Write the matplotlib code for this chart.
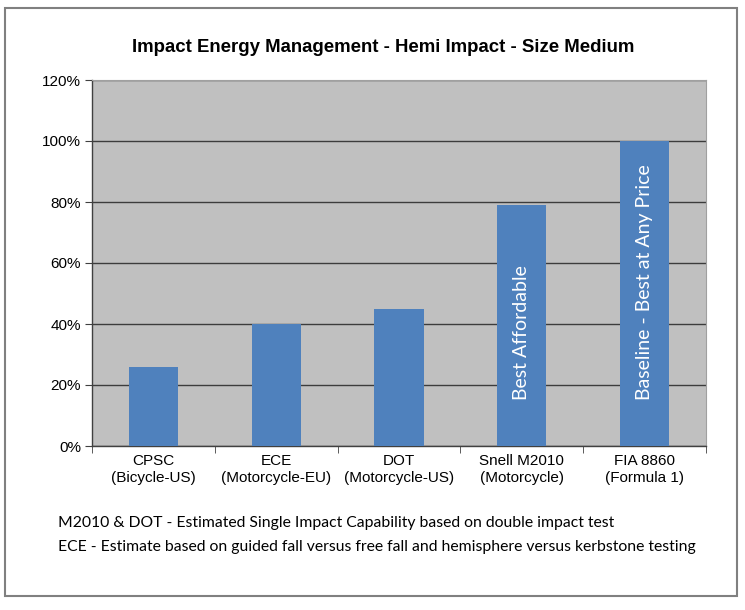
import numpy as np
import matplotlib
matplotlib.use("Agg")
import matplotlib.pyplot as plt
from matplotlib.patches import Rectangle

# chart data
categories = ["CPSC", "ECE", "DOT", "Snell M2010", "FIA 8860"]
subtitles = ["(Bicycle-US)", "(Motorcycle-EU)", "(Motorcycle-US)", "(Motorcycle)", "(Formula 1)"]
values = [26, 40, 45, 79, 100]
bar_notes = ["", "", "", "Best Affordable", "Baseline - Best at Any Price"]
y_ticks = [0, 20, 40, 60, 80, 100, 120]
footnotes = [
    "M2010 & DOT - Estimated Single Impact Capability based on double impact test",
    "ECE - Estimate based on guided fall versus free fall and hemisphere versus kerbstone testing",
]

fig = plt.figure(figsize=(7.45, 6.1), dpi=100)
ax = fig.add_axes([92 / 745, 1 - 446 / 610, 614 / 745, 366 / 610])

# outer frame around the whole chart
fig.patches.append(Rectangle((5 / 745, 14 / 610), 732 / 745, 588 / 610,
                             transform=fig.transFigure, fill=False,
                             edgecolor="#808080", linewidth=1.5))

x = np.arange(len(categories))
ax.set_facecolor("#C0C0C0")
ax.bar(x, values, width=0.4, color="#4F81BD", zorder=3)

for xi, v, note in zip(x, values, bar_notes):
    if note:
        ax.text(xi, 15, note, rotation=90, rotation_mode="anchor",
                ha="left", va="center", color="white", fontsize=14,
                family="Lato", zorder=4)

ax.set_xlim(-0.5, len(categories) - 0.5)
ax.set_ylim(0, 120)
ax.set_yticks(y_ticks)
ax.set_yticklabels([f"{t}%" for t in y_ticks], family="Liberation Sans", fontsize=11)
ax.yaxis.grid(True, color="#3c3c3c", linewidth=1.0, zorder=1)
ax.set_axisbelow(True)

ax.set_xticks(x)
ax.set_xticklabels([f"{c}\n{s}" for c, s in zip(categories, subtitles)],
                   family="Liberation Sans", fontsize=11, linespacing=1.2)
ax.tick_params(axis="x", which="major", length=0, pad=6)
ax.set_xticks(np.arange(-0.5, len(categories)), minor=True)
ax.tick_params(axis="x", which="minor", length=5, direction="out", color="#404040")
ax.tick_params(axis="y", length=5, direction="out", color="#404040", pad=3)

for side in ["top", "right"]:
    ax.spines[side].set_color("#a0a0a0")
    ax.spines[side].set_linewidth(0.8)
for side in ["left", "bottom"]:
    ax.spines[side].set_color("#404040")
    ax.spines[side].set_linewidth(1.0)

fig.text(383 / 745, 1 - 47 / 610, "Impact Energy Management - Hemi Impact - Size Medium",
         ha="center", va="center", fontsize=13.4, fontweight="bold",
         family="Liberation Sans")

fig.text(58 / 745, 1 - 523 / 610, footnotes[0], ha="left", va="center",
         fontsize=11.3, family="Lato")
fig.text(58 / 745, 1 - 547 / 610, footnotes[1], ha="left", va="center",
         fontsize=11.3, family="Lato")

fig.savefig("out.png", dpi=100, facecolor="white")
